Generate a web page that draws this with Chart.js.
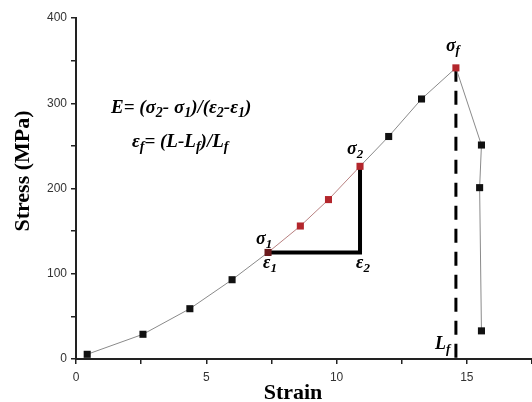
<!DOCTYPE html>
<html>
<head>
<meta charset="utf-8">
<script src="https://cdn.jsdelivr.net/npm/chart.js@4.4.1/dist/chart.umd.min.js"></script>
<style>
  html, body { margin: 0; padding: 0; background: #fff; }
  #wrap { width: 532px; height: 402px; position: relative; }
</style>
</head>
<body>
<div id="wrap"><canvas id="chart"></canvas></div>
<script>
// ─── Data ───
const strain = [0.43, 2.57, 4.37, 5.99, 7.37, 8.61, 9.69, 10.9, 12.0, 13.26, 14.58, 15.56, 15.49, 15.56];
const stress = [5.5, 29, 59, 93, 125, 156, 187, 226, 261, 305, 341.5, 251, 201, 33];
const redIdx = [4, 5, 6, 7, 10];           // highlighted points
const xTickLabels = [0, 5, 10, 15];
const yTickLabels = [0, 100, 200, 300, 400];

// modulus construction: sigma1 -> eps2 -> sigma2
const triX = [7.37, 10.9, 10.9];
const triY = [125, 125, 226];
// fracture line at L_f
const fracX = [14.58, 14.58];
const fracY = [341.5, 0];

const RED = '#b3262c';
const SERIF = '"Liberation Serif", "DejaVu Serif", serif';

const curve = strain.map((x, i) => ({ x, y: stress[i] }));
const tri = triX.map((x, i) => ({ x, y: triY[i] }));
const frac = fracX.map((x, i) => ({ x, y: fracY[i] }));

const pointColors = strain.map((_, i) => i === 4 ? '#6a1a1c' : (redIdx.includes(i) ? RED : '#111'));

// draw text with subscripts: parts = [[text, isSub], ...]
function rich(ctx, parts, x, y, size) {
    let cx = x;
    parts.forEach(([t, sub]) => {
        ctx.font = 'bold italic ' + (sub ? Math.round(size * 0.72) : size) + 'px ' + SERIF;
        ctx.fillText(t, cx, sub ? y + size * 0.2 : y);
        cx += ctx.measureText(t).width;
    });
}

// ─── Labels & formulas ───
const textPlugin = {
    id: 'texts',
    afterDatasetsDraw(chart) {
        const { ctx, scales: { x, y } } = chart;
        ctx.save();
        ctx.fillStyle = '#000';
        ctx.textAlign = 'left';
        ctx.textBaseline = 'alphabetic';

        rich(ctx, [['E= (σ', 0], ['2', 1], ['- σ', 0], ['1', 1], [')/(ε', 0], ['2', 1], ['-ε', 0], ['1', 1], [')', 0]], 111, 113, 19);
        rich(ctx, [['ε', 0], ['f', 1], ['= (L-L', 0], ['f', 1], [')/L', 0], ['f', 1]], 132, 147, 19);

        const px = i => x.getPixelForValue(strain[i]);
        const py = i => y.getPixelForValue(stress[i]);
        rich(ctx, [['σ', 0], ['1', 1]], px(4) - 12, py(4) - 8, 18);
        rich(ctx, [['ε', 0], ['1', 1]], px(4) - 5, py(4) + 16, 18);
        rich(ctx, [['σ', 0], ['2', 1]], px(7) - 13, py(7) - 12, 18);
        rich(ctx, [['ε', 0], ['2', 1]], x.getPixelForValue(triX[1]) - 4, y.getPixelForValue(triY[1]) + 16, 18);
        rich(ctx, [['σ', 0], ['f', 1]], px(10) - 10, py(10) - 17, 18);
        rich(ctx, [['L', 0], ['f', 1]], x.getPixelForValue(fracX[0]) - 21, y.getPixelForValue(0) - 10, 18);

        // axis titles
        ctx.font = 'bold 22px ' + SERIF;
        ctx.textAlign = 'center';
        ctx.textBaseline = 'middle';
        ctx.fillText('Strain', 293, 393);
        ctx.translate(23, 171);
        ctx.rotate(-Math.PI / 2);
        ctx.fillText('Stress (MPa)', 0, 0);
        ctx.restore();
    }
};

new Chart(document.getElementById('chart'), {
    type: 'scatter',
    data: {
        datasets: [
            {
                data: curve,
                showLine: true,
                borderWidth: 1,
                borderColor: '#8a8a8a',
                segment: {
                    borderColor: c => (redIdx.includes(c.p0DataIndex) && redIdx.includes(c.p1DataIndex)) ? '#b88080' : '#8a8a8a'
                },
                pointStyle: 'rect',
                pointRadius: 5,
                pointBackgroundColor: pointColors,
                pointBorderColor: pointColors,
                pointBorderWidth: 0,
                order: 1
            },
            {
                data: tri,
                showLine: true,
                borderWidth: 4,
                borderColor: '#000',
                pointRadius: 0,
                order: 2
            },
            {
                data: frac,
                showLine: true,
                borderWidth: 3,
                borderColor: '#000',
                borderDash: [14, 9],
                pointRadius: 0,
                order: 3
            }
        ]
    },
    options: {
        responsive: true,
        maintainAspectRatio: false,
        animation: false,
        layout: { autoPadding: false, padding: { top: 18, right: 0, bottom: 0, left: 0 } },
        plugins: { legend: { display: false }, tooltip: { enabled: false } },
        scales: {
            x: {
                type: 'linear',
                min: 0,
                max: 17.5,
                ticks: {
                    stepSize: 2.5,
                    autoSkip: false,
                    maxRotation: 0,
                    padding: 6,
                    color: '#333',
                    font: { size: 12, family: 'Arial, "Liberation Sans"' },
                    callback: v => xTickLabels.includes(v) ? String(v) : ''
                },
                grid: { drawOnChartArea: false, tickLength: 5, color: '#222', lineWidth: 1.5 },
                border: { color: '#222', width: 2 },
                afterFit: s => { s.height = 43; s.paddingRight = 0; }
            },
            y: {
                min: 0,
                max: 400,
                ticks: {
                    stepSize: 50,
                    padding: 4,
                    color: '#333',
                    font: { size: 12, family: 'Arial, "Liberation Sans"' },
                    callback: v => yTickLabels.includes(v) ? String(v) : ''
                },
                grid: { drawOnChartArea: false, tickLength: 5, color: '#222', lineWidth: 1.5 },
                border: { color: '#222', width: 2 },
                afterFit: s => { s.width = 76; }
            }
        }
    },
    plugins: [textPlugin]
});
</script>
</body>
</html>
